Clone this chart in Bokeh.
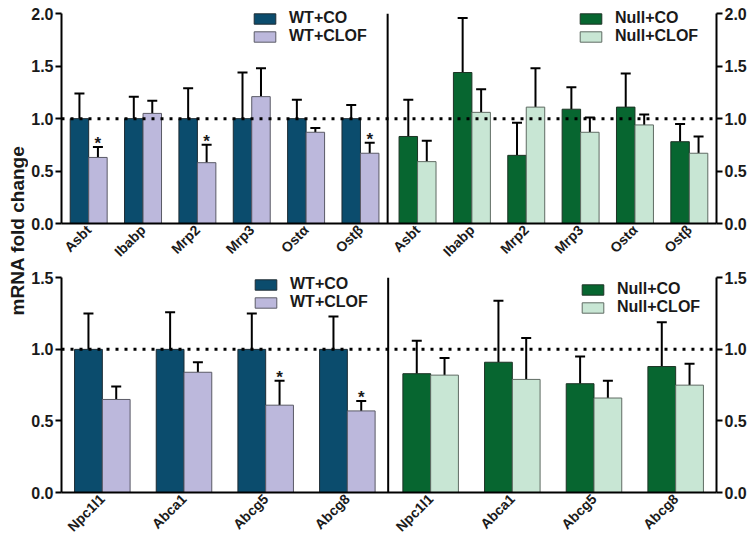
import math
from bokeh.plotting import figure
from bokeh.models import (ColumnDataSource, Whisker, Span, Legend, LegendItem,
                          FixedTicker, LinearAxis, Range1d, TeeHead, NumeralTickFormatter,
                          CustomJSTickFormatter)
from bokeh.layouts import row, column
from bokeh.embed import file_html
from bokeh.resources import INLINE
from bokeh.core.properties import value

FONT = "Liberation Sans"

# ---------------- data ----------------
top_genes = ["Asbt", "Ibabp", "Mrp2", "Mrp3", "Ostα", "Ostβ"]
top_wt_co = [1.0, 1.0, 1.0, 1.0, 1.0, 1.0]
top_wt_co_sem = [0.24, 0.21, 0.29, 0.44, 0.18, 0.13]
top_wt_clof = [0.63, 1.05, 0.58, 1.21, 0.87, 0.67]
top_wt_clof_sem = [0.10, 0.12, 0.17, 0.27, 0.04, 0.10]
top_null_co = [0.83, 1.44, 0.65, 1.09, 1.11, 0.78]
top_null_co_sem = [0.35, 0.52, 0.31, 0.21, 0.32, 0.17]
top_null_clof = [0.59, 1.06, 1.11, 0.87, 0.94, 0.67]
top_null_clof_sem = [0.20, 0.22, 0.37, 0.14, 0.10, 0.16]
top_wt_stars = [True, False, True, False, False, True]
top_yticks = [0.0, 0.5, 1.0, 1.5, 2.0]

bot_genes = ["Npc1l1", "Abca1", "Abcg5", "Abcg8"]
bot_wt_co = [1.0, 1.0, 1.0, 1.0]
bot_wt_co_sem = [0.25, 0.26, 0.25, 0.23]
bot_wt_clof = [0.65, 0.84, 0.61, 0.57]
bot_wt_clof_sem = [0.09, 0.07, 0.17, 0.07]
bot_null_co = [0.83, 0.91, 0.76, 0.88]
bot_null_co_sem = [0.23, 0.43, 0.19, 0.31]
bot_null_clof = [0.82, 0.79, 0.66, 0.75]
bot_null_clof_sem = [0.12, 0.29, 0.12, 0.15]
bot_wt_stars = [False, False, True, True]
bot_yticks = [0.0, 0.5, 1.0, 1.5]

series_names = ["WT+CO", "WT+CLOF", "Null+CO", "Null+CLOF"]
C_WT_CO = "#0b4c6d"
C_WT_CLOF = "#bcb8dc"
C_NULL_CO = "#076630"
C_NULL_CLOF = "#c8e6d4"
TEXT_C = "#1a1a1a"


def style_y(ax, ticks):
    ax.ticker = FixedTicker(ticks=ticks)
    ax.formatter = NumeralTickFormatter(format="0.0")
    ax.bounds = (0, ticks[-1])
    ax.axis_line_width = 2
    ax.axis_line_color = "black"
    ax.major_tick_line_width = 2
    ax.major_tick_out = 6
    ax.major_tick_in = 0
    ax.minor_tick_line_color = None
    ax.major_label_text_font = FONT
    ax.major_label_text_font_style = "bold"
    ax.major_label_text_font_size = "16px"
    ax.major_label_standoff = 2
    ax.major_label_text_color = TEXT_C


def build(genes, wt_co, wt_co_sem, wt_clof, wt_clof_sem, null_co, null_co_sem,
          null_clof, null_clof_sem, wt_stars, yticks, y_end, right_shift, height,
          border_top, border_bottom, leg_left, leg_right):
    n = len(genes)
    left_x = [float(i) for i in range(n)]
    right_x = [round(n + right_shift + i, 3) for i in range(n)]
    x_end = right_x[-1] + 0.5
    p = figure(width=721, height=height, x_range=Range1d(-0.5, x_end),
               y_range=Range1d(0, y_end), output_backend="svg",
               toolbar_location=None, min_border_left=32, min_border_right=32,
               min_border_top=border_top, min_border_bottom=border_bottom,
               outline_line_color=None)
    p.xgrid.visible = False
    p.ygrid.visible = False

    bw = 0.34
    off = 0.17

    def bars(xs, vals, sems, color, line_color, offset):
        xx = [x + offset for x in xs]
        src = ColumnDataSource(dict(x=xx, top=vals,
                                    upper=[v + s for v, s in zip(vals, sems)]))
        w = Whisker(source=src, base="x", lower="top", upper="upper",
                    dimension="height", line_width=2, line_color="black",
                    upper_head=TeeHead(size=10, line_width=2, line_color="black"),
                    lower_head=None)
        p.add_layout(w)
        r = p.vbar(x="x", top="top", bottom=0, width=bw, source=src,
                   fill_color=color, line_color=line_color, line_width=1)
        return r, src

    r1, _ = bars(left_x, wt_co, wt_co_sem, C_WT_CO, "#1d2b33", -off)
    r2, s2 = bars(left_x, wt_clof, wt_clof_sem, C_WT_CLOF, "#5a5a66", off)
    r3, _ = bars(right_x, null_co, null_co_sem, C_NULL_CO, "#1d3325", -off)
    r4, _ = bars(right_x, null_clof, null_clof_sem, C_NULL_CLOF, "#5f6b63", off)

    sx = [x for x, s in zip(s2.data["x"], wt_stars) if s]
    sy = [u for u, s in zip(s2.data["upper"], wt_stars) if s]
    p.text(x=sx, y=sy, text=["*"] * len(sx), text_align="center",
           text_baseline="alphabetic", y_offset=-3, text_font=value(FONT),
           text_font_style="bold", text_font_size="17px", text_color=TEXT_C)

    # dotted reference line at 1.0
    p.add_layout(Span(location=1.0, dimension="width", line_color="black",
                      line_width=3, line_dash="3 6"))
    # divider between panels
    div = n - 0.5
    p.segment(x0=[div], y0=[0], x1=[div], y1=[yticks[-1]], line_color="black",
              line_width=2)

    style_y(p.yaxis[0], yticks)
    ra = LinearAxis()
    style_y(ra, yticks)
    p.add_layout(ra, "right")

    xs_all = left_x + right_x
    xa = p.xaxis[0]
    xa.ticker = FixedTicker(ticks=xs_all)
    xa.formatter = CustomJSTickFormatter(
        args=dict(xs=xs_all, names=genes + genes),
        code="""
        let best = 0, bd = 1e9;
        for (let i = 0; i < xs.length; i++) {
            const d = Math.abs(xs[i] - tick);
            if (d < bd) { bd = d; best = i; }
        }
        return names[best];
        """)
    xa.major_tick_line_color = None
    xa.minor_tick_line_color = None
    xa.major_tick_out = 0
    xa.major_tick_in = 0
    xa.minor_tick_out = 0
    xa.major_label_orientation = math.pi / 4
    xa.axis_line_width = 2
    xa.axis_line_color = "black"
    xa.major_label_text_font = FONT
    xa.major_label_text_font_style = "bold"
    xa.major_label_text_font_size = "14px"
    xa.major_label_standoff = 4
    xa.major_label_text_color = TEXT_C

    def legend(items, loc):
        lg = Legend(items=items, location=loc, orientation="vertical",
                    glyph_width=27, glyph_height=13, label_standoff=11, spacing=0,
                    padding=0, margin=0, border_line_color=None,
                    background_fill_alpha=0, label_text_font=FONT,
                    label_text_font_style="bold", label_text_font_size="16px",
                    label_height=13, label_text_color=TEXT_C)
        p.add_layout(lg)

    legend([LegendItem(label=series_names[0], renderers=[r1]),
            LegendItem(label=series_names[1], renderers=[r2])], leg_left)
    legend([LegendItem(label=series_names[2], renderers=[r3]),
            LegendItem(label=series_names[3], renderers=[r4])], leg_right)
    return p


top = build(top_genes, top_wt_co, top_wt_co_sem, top_wt_clof, top_wt_clof_sem,
            top_null_co, top_null_co_sem, top_null_clof, top_null_clof_sem,
            top_wt_stars, top_yticks, 2.06, 0.05, 268, 7, 41,
            (190, 178), (516, 178))
bot = build(bot_genes, bot_wt_co, bot_wt_co_sem, bot_wt_clof, bot_wt_clof_sem,
            bot_null_co, bot_null_co_sem, bot_null_clof, bot_null_clof_sem,
            bot_wt_stars, bot_yticks, 1.53, 0.02, 275, 5, 49,
            (191, 181), (518, 176))

lab = figure(width=28, height=543, x_range=Range1d(0, 28), y_range=Range1d(0, 543),
             output_backend="svg", toolbar_location=None, min_border=0,
             outline_line_color=None)
lab.axis.visible = False
lab.grid.visible = False
lab.text(x=[17], y=[313], text=["mRNA fold change"], angle=math.pi / 2,
         text_align="center", text_baseline="middle", text_font=value(FONT),
         text_font_style="bold", text_font_size="19px", text_color=TEXT_C)

layout = row(lab, column(top, bot))
open("out.html", "w").write(file_html(layout, INLINE))
